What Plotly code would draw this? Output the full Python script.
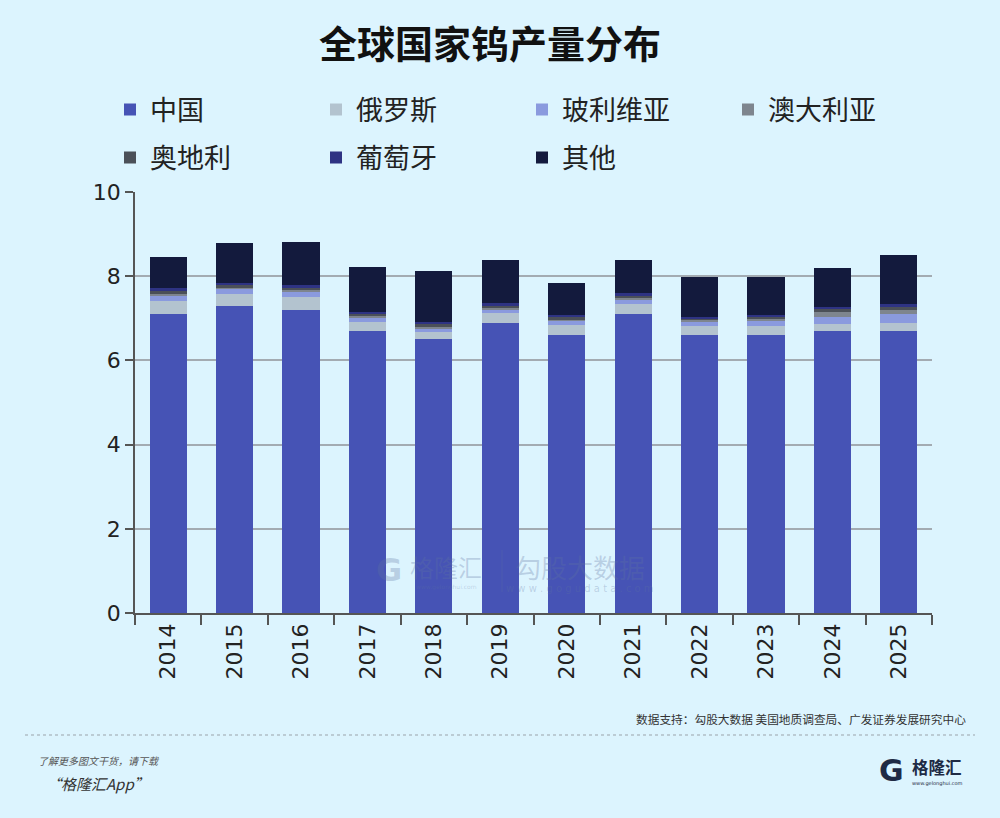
import plotly.graph_objects as go

# 全球钨产量（万吨），按图读数估算
years = ["2014", "2015", "2016", "2017", "2018", "2019",
         "2020", "2021", "2022", "2023", "2024", "2025"]
china = [7.10, 7.30, 7.20, 6.70, 6.50, 6.90, 6.60, 7.10, 6.60, 6.60, 6.70, 6.70]
russia = [0.30, 0.27, 0.31, 0.22, 0.17, 0.22, 0.24, 0.23, 0.22, 0.22, 0.16, 0.20]
bolivia = [0.12, 0.13, 0.11, 0.10, 0.09, 0.09, 0.10, 0.12, 0.11, 0.13, 0.18, 0.20]
australia = [0.05, 0.02, 0.05, 0.03, 0.04, 0.04, 0.03, 0.04, 0.03, 0.04, 0.10, 0.10]
austria = [0.08, 0.08, 0.06, 0.05, 0.06, 0.05, 0.05, 0.05, 0.04, 0.05, 0.08, 0.07]
portugal = [0.07, 0.05, 0.06, 0.06, 0.05, 0.06, 0.05, 0.05, 0.04, 0.04, 0.06, 0.06]
other = [0.73, 0.93, 1.03, 1.05, 1.21, 1.02, 0.76, 0.79, 0.95, 0.89, 0.92, 1.17]

y_ticks = [0, 2, 4, 6, 8, 10]

series = [
    ("中国", china, "#4653B5", "legend"),
    ("俄罗斯", russia, "#B3C3CF", "legend"),
    ("玻利维亚", bolivia, "#8A9ADE", "legend"),
    ("澳大利亚", australia, "#7E858E", "legend"),
    ("奥地利", austria, "#4B5058", "legend2"),
    ("葡萄牙", portugal, "#2E3383", "legend2"),
    ("其他", other, "#131A3D", "legend2"),
]

BG = "#DCF4FE"
CJK = "Noto Sans CJK SC"

# 绘图区像素位置
L, R, T, B = 135, 932, 192, 613


def px(x):
    return (x - L) / (R - L)


def py(y):
    return (B - y) / (B - T)


def note(x, y, text, size, color, family=CJK, anchor="center"):
    fig.add_annotation(x=px(x), y=py(y), xref="paper", yref="paper",
                       xanchor=anchor, yanchor="middle", text=text, showarrow=False,
                       font=dict(family=family, size=size, color=color))


fig = go.Figure()
for name, vals, color, lg in series:
    fig.add_trace(go.Bar(
        x=years, y=vals, name=name, legend=lg,
        marker=dict(color=color, line=dict(width=0)),
    ))

legend_common = dict(
    orientation="h", xanchor="left", yanchor="middle",
    font=dict(family=CJK, size=27, color="#222222"),
    bgcolor="rgba(0,0,0,0)", entrywidth=161, entrywidthmode="pixels",
    itemclick=False, traceorder="normal",
)

fig.update_layout(
    width=1000, height=818,
    paper_bgcolor=BG, plot_bgcolor=BG,
    barmode="stack", bargap=0.44,
    margin=dict(l=L, r=1000 - R, t=T, b=818 - B),
    showlegend=True,
    legend=dict(x=px(110), y=py(110), **legend_common),
    legend2=dict(x=px(110), y=py(158), **legend_common),
    font=dict(family="DejaVu Sans", color="#222222"),
    title=dict(text="<b>全球国家钨产量分布</b>", x=0.49, xanchor="center",
               y=1 - 45 / 818, yanchor="middle",
               font=dict(family=CJK, size=38, color="#111111")),
    xaxis=dict(
        type="category", tickangle=-90, tickfont=dict(size=22, color="#222222"),
        showline=True, linecolor="#555555", linewidth=1.5,
        ticks="outside", tickson="boundaries", ticklen=10,
        tickcolor="#555555", tickwidth=1.5, showgrid=False,
    ),
    yaxis=dict(
        range=[0, 10], tickvals=y_ticks, tickfont=dict(size=22, color="#222222"),
        showline=True, linecolor="#555555", linewidth=1.5,
        ticks="outside", ticklen=8, tickcolor="#555555", tickwidth=1.5,
        showgrid=True, gridcolor="#A3ABB2", gridwidth=1.5, zeroline=False,
    ),
)

# 水印
wm = "rgba(95,115,160,0.28)"
note(389, 570, "<b>G</b>", 32, wm, family="DejaVu Sans")
note(446, 566, "格隆汇", 24, wm)
note(446, 587, "www.gelonghui.com", 6, wm, family="DejaVu Sans")
note(580, 566, "勾股大数据", 26, wm)
note(580, 588, "w w w . g o g u d a t a . c o m", 10, wm, family="DejaVu Sans")
fig.add_shape(type="line", xref="paper", yref="paper", x0=px(502), x1=px(502),
              y0=py(550), y1=py(592), line=dict(color=wm, width=1))

# 页脚
note(968, 718, "数据支持：勾股大数据 美国地质调查局、广发证券发展研究中心", 11.7,
     "#333333", anchor="right")
fig.add_shape(type="line", xref="paper", yref="paper", x0=px(25), x1=px(975),
              y0=py(735), y1=py(735), line=dict(color="#9AA3AA", width=1, dash="dot"))
note(36, 760, "<i>了解更多图文干货，请下载</i>", 10, "#555555", anchor="left")
note(44, 783, "<i>“格隆汇App”</i>", 15, "#333333", anchor="left")

# 右下角标志
note(891, 770, "<b>G</b>", 30, "#1E2A44", family="DejaVu Sans")
note(937, 767, "<b>格隆汇</b>", 16.5, "#1E2A44")
note(937, 783, "www.gelonghui.com", 5, "#1E2A44", family="DejaVu Sans")

fig.write_html("out.html", config={"displayModeBar": False},
               post_script="document.body.style.margin='0';")
